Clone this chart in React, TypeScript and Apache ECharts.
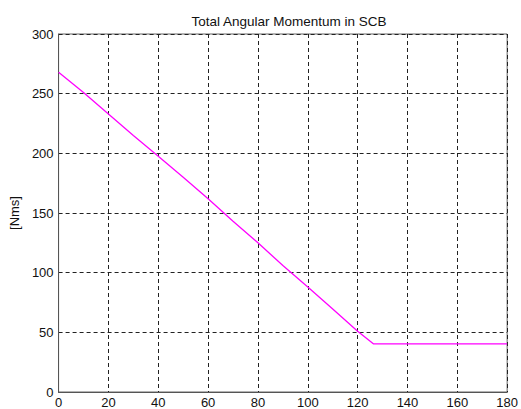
import React, { useEffect, useRef } from "react";
import * as echarts from "echarts";

// Time [s] and total angular momentum [Nms]
const timeValues = [0, 10, 20, 30, 40, 50, 60, 70, 80, 90, 100, 110, 120, 126.3, 140, 160, 180];
const momentumValues = [268, 251, 233, 215, 197.5, 180, 162, 143, 125, 106, 88, 69.5, 51, 40.4, 40.4, 40.4, 40.4];

const xTicks = { min: 0, max: 180, interval: 20 };
const yTicks = { min: 0, max: 300, interval: 50 };

const FONT = "Liberation Sans, Arial, sans-serif";

export default function App() {
  const ref = useRef<HTMLDivElement>(null);

  useEffect(() => {
    if (!ref.current) return;
    const chart = echarts.init(ref.current, undefined, { renderer: "svg" });
    const points = timeValues.map((t, i) => [t, momentumValues[i]]);

    chart.setOption({
      animation: false,
      backgroundColor: "#ffffff",
      title: {
        text: "Total Angular Momentum in SCB",
        left: 284,
        textAlign: "center",
        top: 9,
        textStyle: { fontFamily: FONT, fontSize: 13.5, fontWeight: "normal", color: "#111" },
      },
      grid: {
        left: 58,
        right: 10,
        top: 34,
        bottom: 17,
        show: true,
        borderColor: "#666",
        borderWidth: 1,
        backgroundColor: "transparent",
      },
      xAxis: {
        type: "value",
        min: xTicks.min,
        max: xTicks.max,
        interval: xTicks.interval,
        axisLine: { show: true, lineStyle: { color: "#555", width: 1 } },
        axisTick: { show: false },
        axisLabel: { color: "#111", fontFamily: FONT, fontSize: 13, margin: 4 },
        splitLine: { show: true, lineStyle: { color: "#222", type: [4, 3], width: 1 } },
      },
      yAxis: {
        type: "value",
        min: yTicks.min,
        max: yTicks.max,
        interval: yTicks.interval,
        name: "[Nms]",
        nameLocation: "middle",
        nameGap: 36,
        nameTextStyle: { color: "#111", fontFamily: FONT, fontSize: 13 },
        axisLine: { show: true, lineStyle: { color: "#555", width: 1 } },
        axisTick: { show: false },
        axisLabel: { color: "#111", fontFamily: FONT, fontSize: 13, margin: 5 },
        splitLine: { show: true, lineStyle: { color: "#222", type: [4, 3], width: 1 } },
      },
      series: [
        {
          type: "line",
          data: points,
          showSymbol: false,
          lineStyle: { color: "#ff00ff", width: 1.3 },
        },
      ],
    });

    return () => chart.dispose();
  }, []);

  return <div ref={ref} style={{ width: 521, height: 409, position: "absolute", left: 0, top: 0 }} />;
}
